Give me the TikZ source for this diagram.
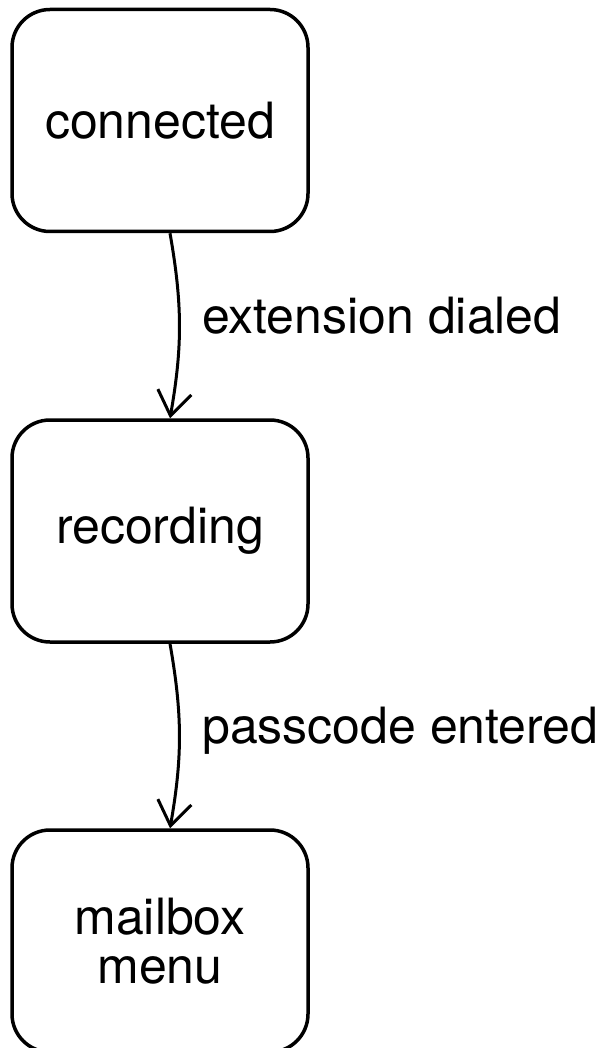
\documentclass[tikz,border=0pt]{standalone}
\usepackage{fontspec}
\setmainfont{TeX Gyre Heros}
\usetikzlibrary{arrows.meta}
\tikzset{
  state/.style = {draw, rounded corners=38pt, line width=3.5pt,
                  minimum width=296pt, minimum height=222pt,
                  inner sep=0pt, align=center,
                  font=\fontsize{50}{49}\selectfont},
  trans/.style = {line width=3pt,
                  -{Straight Barb[length=24pt, width=34pt, line width=3pt]}},
  event/.style = {anchor=west, inner sep=0pt, text height=35pt, text depth=10pt,
                  font=\fontsize{50}{49}\selectfont}
}

\begin{document}
\begin{tikzpicture}[x=1pt, y=-1pt]
	\def \bx{160}
	\def \dx{10pt}
	\useasboundingbox (0,0) rectangle (602,1048);
	
	% States
	\node[state] (con) at (\bx,120.5) {connected};
	\node[state] (rec) at (\bx,531)   {recording};
	\node[state] (mbx) at (\bx,941)   {mailbox\\menu};
	
	% Transitions
	\draw[trans] ([xshift=\dx]con.south) to[bend left=10] ([xshift=\dx]rec.north);
	\draw[trans] ([xshift=\dx]rec.south) to[bend left=10] ([xshift=\dx]mbx.north);
	
	% Events
	\node[event] (ext) at (202,320.5) {extension dialed};
	\node[event] (pas) at (202,730.5) {passcode entered};
	
\end{tikzpicture}
\end{document}
